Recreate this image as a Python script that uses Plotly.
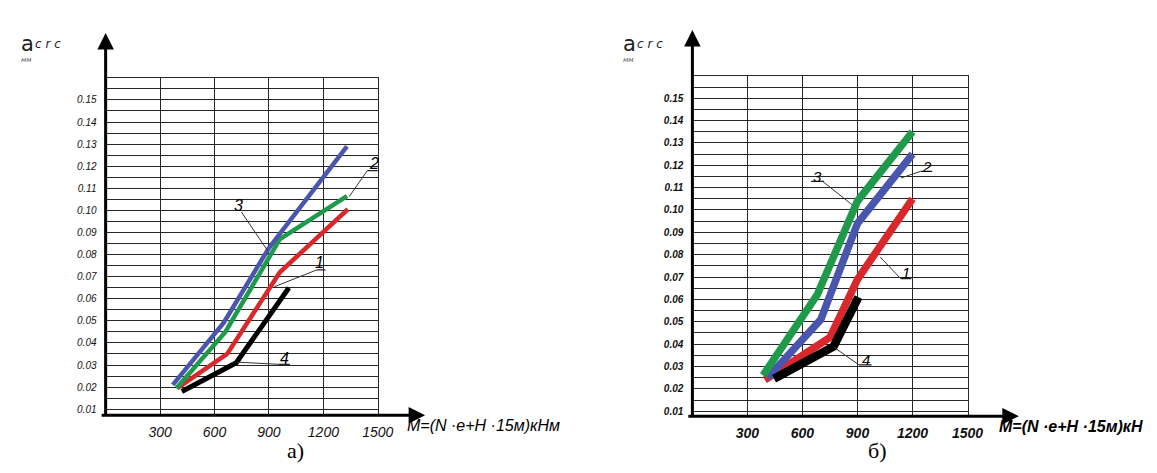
import plotly.graph_objects as go

# ---------------- data ----------------
# panel a)
a_x_1 = [395, 670, 960, 1335]          # red, curve 1
a_y_1 = [0.0195, 0.035, 0.072, 0.1005]
a_x_2 = [390, 660, 960, 1330]          # green, curve 2
a_y_2 = [0.0195, 0.045, 0.087, 0.1065]
a_x_3 = [370, 650, 900, 1330]          # blue, curve 3
a_y_3 = [0.021, 0.049, 0.083, 0.129]
a_x_4 = [420, 720, 1010]               # black, curve 4
a_y_4 = [0.018, 0.031, 0.065]

# panel б)
b_x_1 = [395, 750, 900, 1200]          # red, curve 1
b_y_1 = [0.024, 0.043, 0.069, 0.105]
b_x_2 = [410, 700, 900, 1200]          # blue, curve 2
b_y_2 = [0.025, 0.051, 0.094, 0.125]
b_x_3 = [385, 680, 900, 1200]          # green, curve 3
b_y_3 = [0.026, 0.062, 0.104, 0.135]
b_x_4 = [445, 770, 905]                # black, curve 4
b_y_4 = [0.0245, 0.039, 0.061]

x_ticks = [300, 600, 900, 1200, 1500]
x_ticktext = ["300", "600", "900", "1200", "1500"]
y_ticks = [round(0.01 * i, 2) for i in range(1, 16)]
y_ticktext = ["%.2f" % v for v in y_ticks]

x_title = "M=(N ·e+H ·15м)кНм"
x_title_b = "M=(N ·e+H ·15м)кН"
panel_labels = ["а)", "б)"]

# ---------------- geometry helpers ----------------
W, H = 1157, 473


def px(x):
    return x / W


def py(y):
    return 1 - y / H


RED, GREEN, BLUE, BLACK = "#d8282b", "#1f9a4b", "#4a56ad", "#000000"
GRID = "#262626"
FONT = "Liberation Sans Narrow, Liberation Sans, Arial"

fig = go.Figure()

def add(x, y, color, width, xa, ya):
    fig.add_trace(go.Scatter(x=x, y=y, mode="lines", xaxis=xa, yaxis=ya,
                             line=dict(color=color, width=width),
                             hoverinfo="skip", showlegend=False))

LW_A, LW_B = 4.5, 7.5
add(a_x_4, a_y_4, BLACK, LW_A + 0.5, "x", "y")
add(a_x_1, a_y_1, RED, LW_A, "x", "y")
add(a_x_2, a_y_2, GREEN, LW_A, "x", "y")
add(a_x_3, a_y_3, BLUE, LW_A, "x", "y")

add(b_x_1, b_y_1, RED, LW_B, "x2", "y2")
add(b_x_2, b_y_2, BLUE, LW_B, "x2", "y2")
add(b_x_3, b_y_3, GREEN, LW_B, "x2", "y2")
add(b_x_4, b_y_4, BLACK, LW_B + 1, "x2", "y2")


def xaxis(dom, bold):
    return dict(domain=dom, range=[0, 1500], tickvals=x_ticks, ticktext=x_ticktext,
                showgrid=True, gridcolor=GRID, gridwidth=1.2,
                showline=True, mirror=True, linecolor=GRID, linewidth=1.2,
                zeroline=False, ticks="", ticklabelstandoff=4,
                tickfont=dict(family=FONT, size=14, color="#111", style="italic",
                              weight="bold" if bold else "normal"),
                fixedrange=True)


def yaxis(dom, lo, bold):
    return dict(domain=dom, range=[lo, 0.16], tickvals=y_ticks, ticktext=y_ticktext,
                showgrid=True, gridcolor=GRID, gridwidth=1.2,
                minor=dict(dtick=0.005, tick0=0, showgrid=True, gridcolor=GRID,
                           gridwidth=1.2, ticks=""),
                showline=True, mirror=True, linecolor=GRID, linewidth=1.2,
                zeroline=False, ticks="", ticklabelstandoff=6,
                tickfont=dict(family=FONT, size=10, color="#111", style="italic",
                              weight="bold" if bold else "normal"),
                fixedrange=True)


fig.update_layout(
    width=W, height=H, autosize=False,
    margin=dict(l=0, r=0, t=0, b=0),
    paper_bgcolor="white", plot_bgcolor="white",
    xaxis=xaxis([px(99), px(375)], False),
    yaxis=yaxis([py(408), py(70)], 0.0073, False),
    xaxis2=dict(xaxis([px(694), px(973)], True), anchor="y2"),
    yaxis2=dict(yaxis([py(409), py(68)], 0.0078, True), anchor="x2"),
)
fig.layout.xaxis.anchor = "y"
fig.layout.yaxis.anchor = "x"

shapes = []
ann = []

# thick axes with arrows
def arrow(hx, hy, tx, ty):
    ann.append(dict(x=px(hx), y=py(hy), xref="paper", yref="paper", text="",
                    showarrow=True, ax=tx - hx, ay=ty - hy, axref="pixel", ayref="pixel",
                    arrowhead=2, arrowsize=1.1, arrowwidth=3, arrowcolor="black",
                    standoff=0, startstandoff=0))

arrow(99, 25, 99, 409)
arrow(423, 408, 98, 408)
arrow(694, 22, 694, 410)
arrow(1025, 409, 693, 409)

# curve numbers with leader lines
def label(txt, tx, ty, ul, leader, xr, yr, size=16):
    ann.append(dict(x=tx, y=ty, xref=xr, yref=yr, text=txt, showarrow=False,
                    font=dict(family=FONT, size=size, color="black", style="italic")))
    if ul:
        shapes.append(dict(type="line", xref=xr, yref=yr, x0=ul[0], x1=ul[1], y0=ul[2], y1=ul[2],
                           line=dict(color="#222", width=1.2)))
    (x0, y0), (x1, y1) = leader
    shapes.append(dict(type="line", xref=xr, yref=yr, x0=x0, y0=y0, x1=x1, y1=y1,
                       line=dict(color="#333", width=1)))

label("3", 733, 0.1024, None, ((748, 0.0993), (893, 0.0817)), "x", "y")
label("2", 1478, 0.121, (1442, 1524, 0.118), ((1442, 0.118), (1342, 0.1062)), "x", "y")
label("1", 1178, 0.0764, (1165, 1212, 0.0731), ((1165, 0.0731), (929, 0.0654)), "x", "y")
label("4", 983, 0.033, (952, 1015, 0.0303), ((723, 0.0313), (952, 0.0303)), "x", "y")

label("3", 683, 0.1151, (647, 718, 0.1128), ((710, 0.1128), (870, 0.1024)), "x2", "y2", 15)
label("2", 1280, 0.1196, (1244, 1307, 0.1173), ((1244, 0.1173), (1137, 0.1143)), "x2", "y2", 15)
label("1", 1164, 0.0722, (1135, 1194, 0.0693), ((1135, 0.0693), (1024, 0.079)), "x2", "y2", 15)
label("4", 947, 0.033, (908, 977, 0.0307), ((770, 0.0387), (908, 0.0307)), "x2", "y2", 15)

# axis titles
ann.append(dict(x=px(403), y=py(429), xref="paper", yref="paper", xanchor="left",
                text=x_title, showarrow=False,
                font=dict(family=FONT, size=16, color="black", style="italic")))
ann.append(dict(x=px(1003), y=py(430), xref="paper", yref="paper", xanchor="left",
                text=x_title_b, showarrow=False,
                font=dict(family=FONT, size=16, color="black", style="italic", weight="bold")))

for x0 in (11, 622):
    ann.append(dict(x=px(x0), y=py(22), xref="paper", yref="paper", xanchor="left",
                    text="a", showarrow=False,
                    font=dict(family="DejaVu Sans", size=21, color="#222")))
    ann.append(dict(x=px(x0 + 14), y=py(27), xref="paper", yref="paper", xanchor="left",
                    text="c r c", showarrow=False,
                    font=dict(family="DejaVu Sans", size=12, color="#222", style="italic")))
    ann.append(dict(x=px(x0), y=py(46), xref="paper", yref="paper", xanchor="left",
                    text="мм", showarrow=False,
                    font=dict(family="DejaVu Sans", size=7, color="#555", style="italic")))

ann.append(dict(x=px(281), y=py(458), xref="paper", yref="paper", text=panel_labels[0],
                showarrow=False, font=dict(family="Liberation Serif", size=22, color="black")))
ann.append(dict(x=px(893), y=py(458), xref="paper", yref="paper", text=panel_labels[1],
                showarrow=False, font=dict(family="Liberation Serif", size=22, color="black")))

fig.update_layout(shapes=shapes, annotations=ann)
fig.write_html("out.html")
